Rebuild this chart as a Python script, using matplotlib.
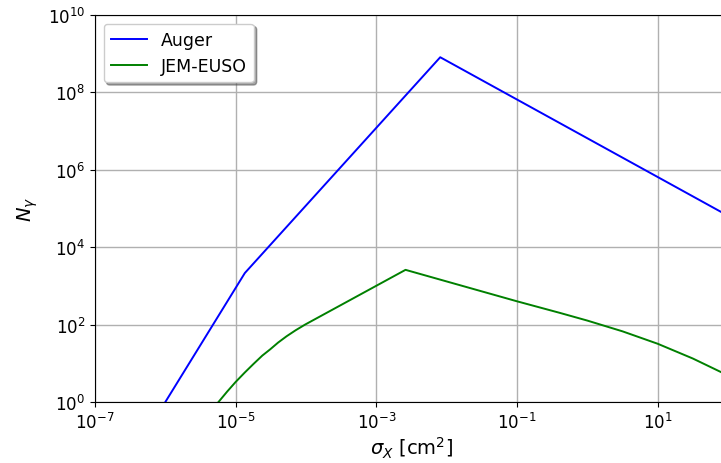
import matplotlib
matplotlib.use('Agg')
import matplotlib.pyplot as plt
from matplotlib.ticker import NullLocator

auger_sigma = [1e-6, 1.35e-5, 8.1e-3, 100]
auger_n = [1.0, 2.15e3, 8.1e8, 6.5e4]

jem_sigma = [5.7e-6, 7.57e-6, 1.0e-5, 1.35e-5, 1.79e-5, 2.39e-5, 3.1e-5,
             4.02e-5, 5.3e-5, 7.14e-5, 9.7e-5, 2.6e-3, 1e-1, 0.41,
             1.0, 3.16, 10, 31.6, 80, 100]
jem_n = [1.0, 1.86, 3.3, 5.8, 9.6, 15.8, 23, 34.4, 50, 71.6, 100, 2600,
         400, 200, 127, 67, 32, 13.3, 5.9, 4.7]

xticks = [1e-7, 1e-5, 1e-3, 1e-1, 1e1]
yticks = [1e0, 1e2, 1e4, 1e6, 1e8, 1e10]

fig = plt.figure(figsize=(7.21, 4.64), dpi=100)
ax = fig.add_axes([95 / 721, 61 / 464, 633 / 721, 387 / 464])

ax.plot(auger_sigma, auger_n, color='b', lw=1.4, label='Auger')
ax.plot(jem_sigma, jem_n, color='g', lw=1.4, label='JEM-EUSO')

ax.set_xscale('log')
ax.set_yscale('log')
ax.set_xlim(1e-7, 1e2)
ax.set_ylim(1e0, 1e10)
ax.set_xticks(xticks)
ax.set_yticks(yticks)
ax.xaxis.set_minor_locator(NullLocator())
ax.yaxis.set_minor_locator(NullLocator())
ax.tick_params(labelsize=12)
ax.grid(True, color='#b0b0b0', lw=1)

ax.set_xlabel(r'$\sigma_X$ [cm$^2$]', fontsize=14, labelpad=2)
ax.set_ylabel(r'$N_\gamma$', fontsize=14, labelpad=6)
ax.legend(loc='upper left', shadow=True, fontsize=12.5, handlelength=2.1)

fig.savefig('out.png', dpi=100)
